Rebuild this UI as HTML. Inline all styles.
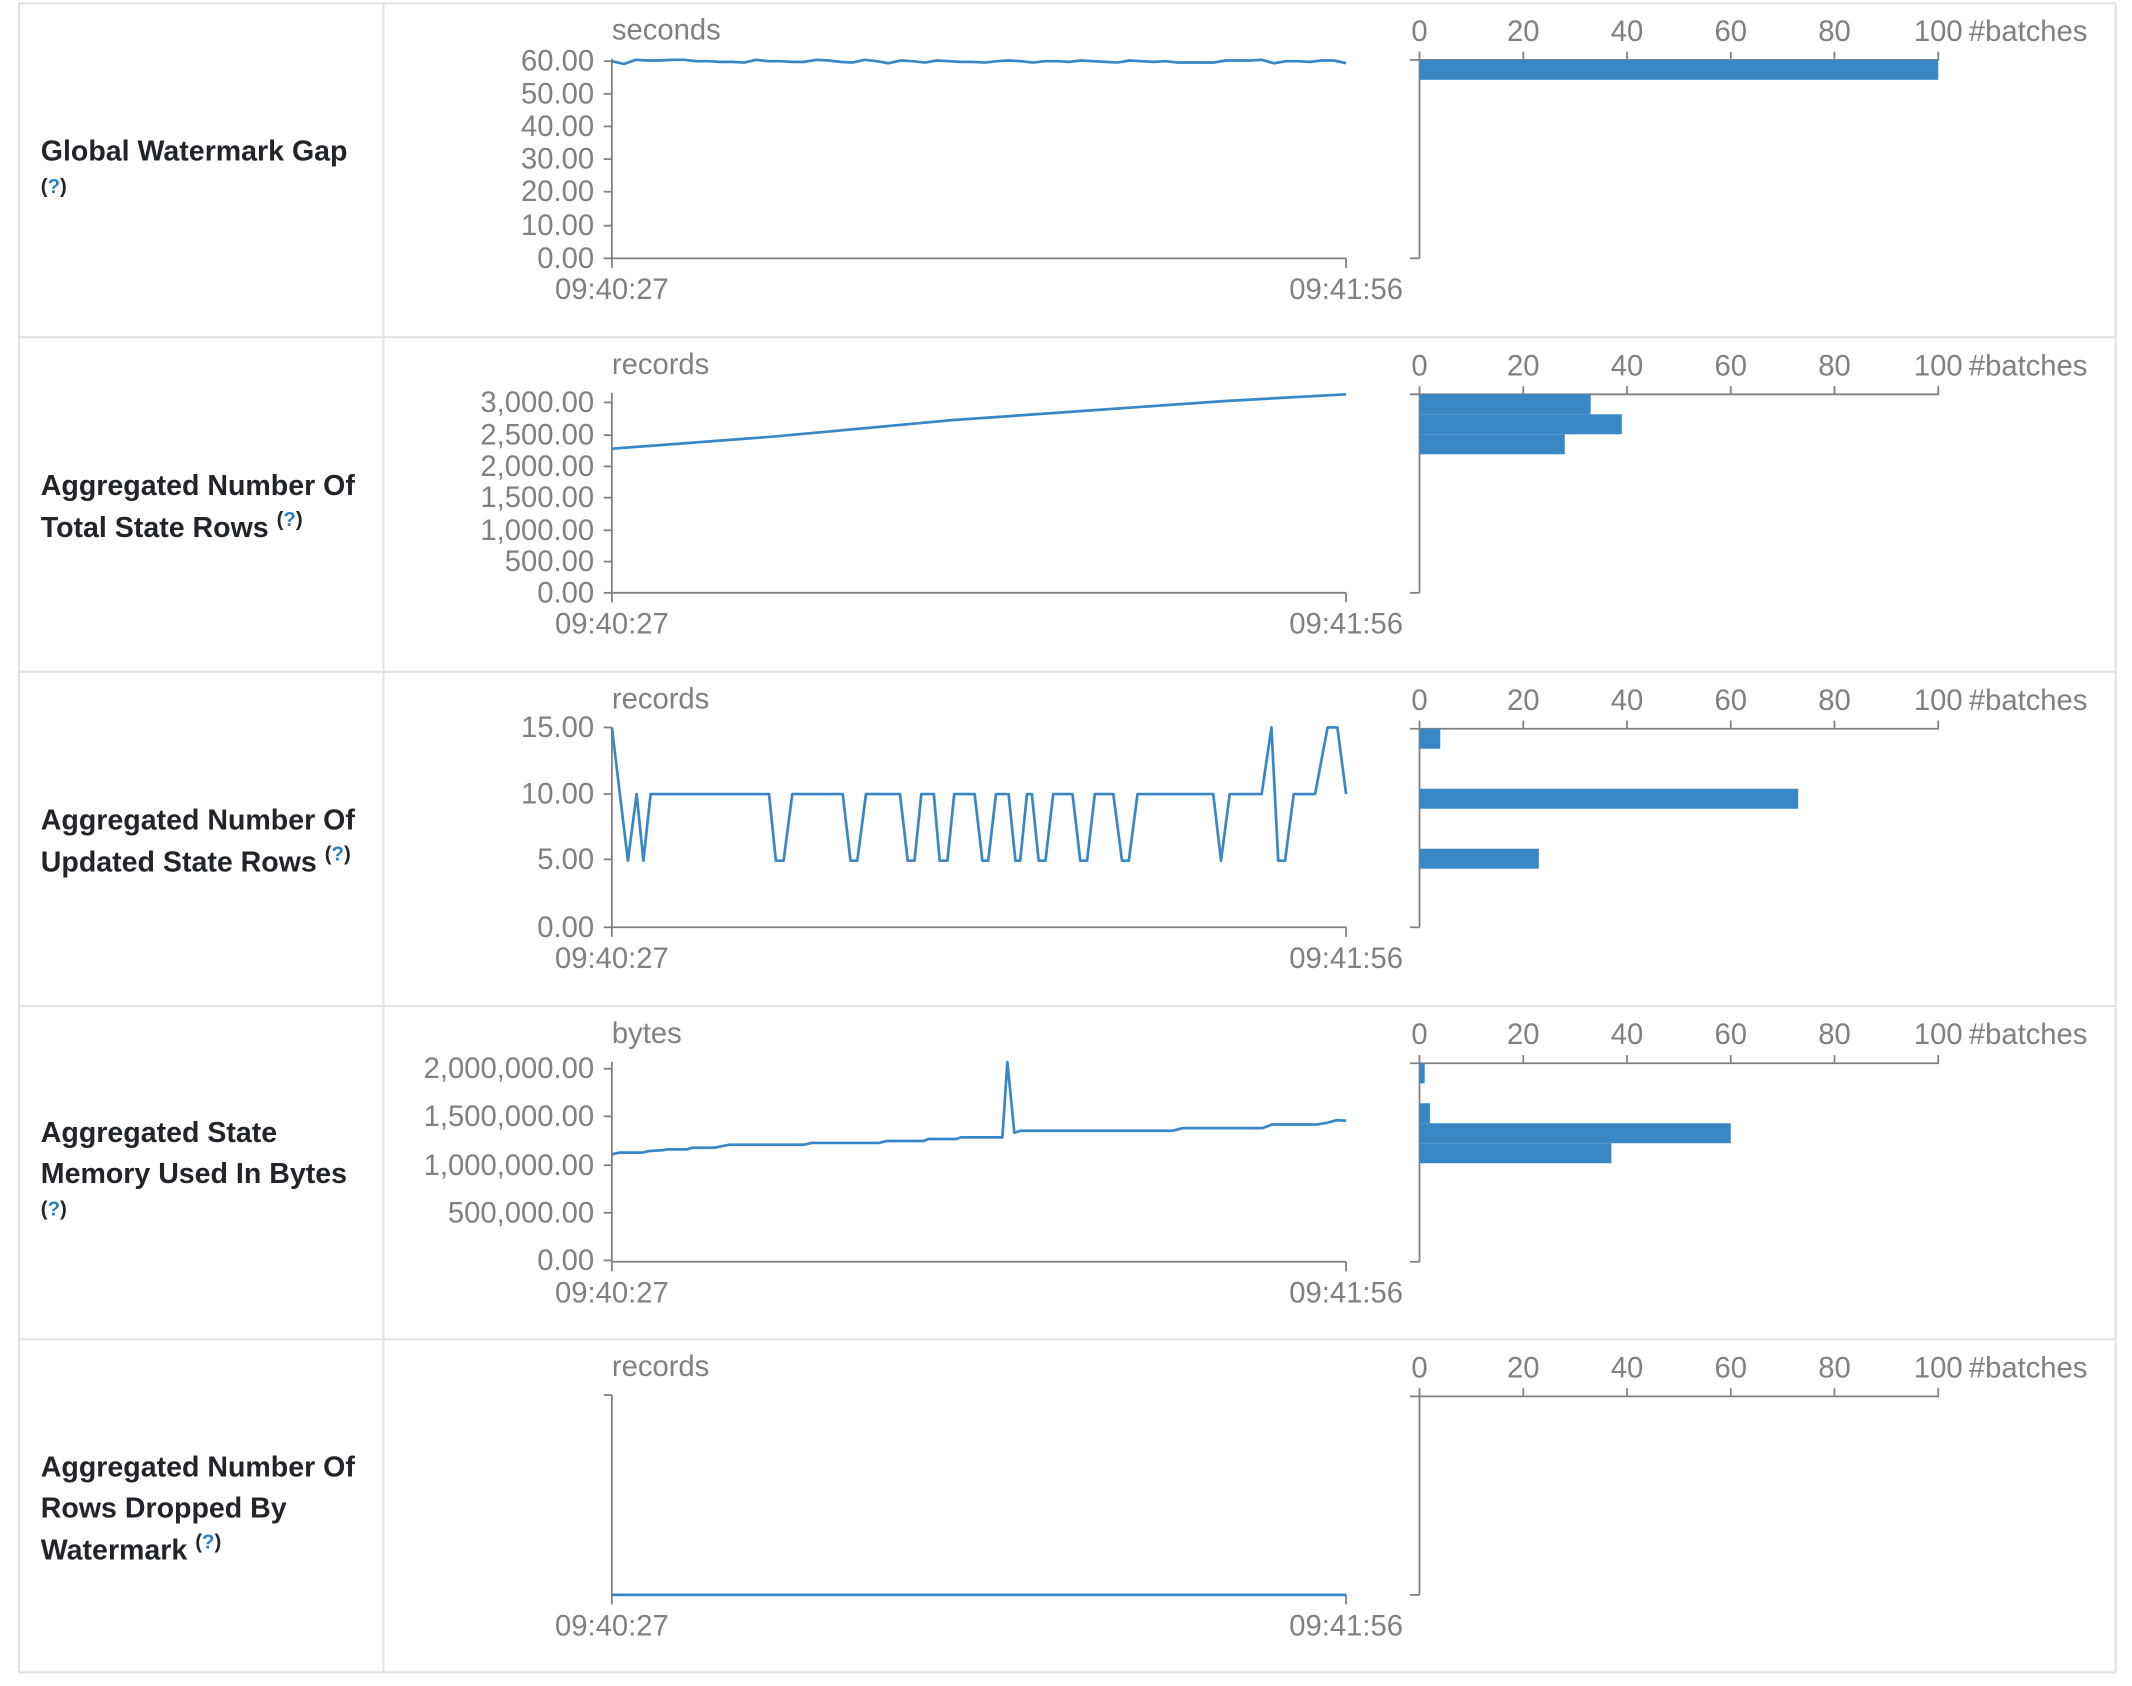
<!DOCTYPE html>
<html><head><meta charset="utf-8"><style>
html,body{margin:0;padding:0;background:#fff;}
svg{display:block}
text{font-family:"Liberation Sans",sans-serif;}
.t{fill:#808080;font-size:21.5px}
.h{fill:#212529;font-size:21px;font-weight:bold}
.q{font-size:15px;font-weight:bold;fill:#212529}
</style></head><body>
<svg id="s" width="2132" height="1686" viewBox="0 0 1568 1240" xmlns="http://www.w3.org/2000/svg">
<g stroke="#dee2e6" stroke-width="1.5" fill="none">
<line x1="14" y1="2.5" x2="1556" y2="2.5"/>
<line x1="14" y1="248" x2="1556" y2="248"/>
<line x1="14" y1="494" x2="1556" y2="494"/>
<line x1="14" y1="740" x2="1556" y2="740"/>
<line x1="14" y1="985" x2="1556" y2="985"/>
<line x1="14" y1="1230" x2="1556" y2="1230"/>
<line x1="14" y1="2" x2="14" y2="1230"/>
<line x1="282" y1="2" x2="282" y2="1230"/>
<line x1="1556" y1="2" x2="1556" y2="1230"/>
</g>
<g id="g"></g>
<text class="h" x="30" y="118">Global Watermark Gap</text>
<text class="q" x="30" y="142">(<tspan fill="#2a7ec0">?</tspan>)</text>
<text class="h" x="30" y="364">Aggregated Number Of</text>
<text class="h" x="30" y="395">Total State Rows <tspan class="q" dy="-8">(<tspan fill="#2a7ec0">?</tspan>)</tspan></text>
<text class="h" x="30" y="610">Aggregated Number Of</text>
<text class="h" x="30" y="641">Updated State Rows <tspan class="q" dy="-8">(<tspan fill="#2a7ec0">?</tspan>)</tspan></text>
<text class="h" x="30" y="840">Aggregated State</text>
<text class="h" x="30" y="870">Memory Used In Bytes</text>
<text class="q" x="30" y="894">(<tspan fill="#2a7ec0">?</tspan>)</text>
<text class="h" x="30" y="1086">Aggregated Number Of</text>
<text class="h" x="30" y="1116">Rows Dropped By</text>
<text class="h" x="30" y="1147">Watermark <tspan class="q" dy="-8">(<tspan fill="#2a7ec0">?</tspan>)</tspan></text>
</svg>
<script>
var g=document.getElementById('g'),h='';
var X0=450,X1=990,HX=1044,HU=3.815;
function T(x,y,s,a){h+='<text class="t" x="'+x+'" y="'+y+'" text-anchor="'+(a||'start')+'">'+s+'</text>';}
function L(a,b,c,d){h+='<line x1="'+a+'" y1="'+b+'" x2="'+c+'" y2="'+d+'" stroke="#808080" stroke-width="1.3"/>';}
function P(pts){h+='<polyline fill="none" stroke="#3a87c6" stroke-width="2" stroke-linejoin="round" points="'+pts.map(function(p){return p[0].toFixed(1)+','+p[1].toFixed(1)}).join(' ')+'"/>';}
var rows=[
 {r:2,unit:'seconds',ticks:[['60.00',45],['50.00',69],['40.00',93],['30.00',117],['20.00',141],['10.00',166],['0.00',190]],bars:[[0,100]]},
 {r:248,unit:'records',ticks:[['3,000.00',296],['2,500.00',320],['2,000.00',343],['1,500.00',366],['1,000.00',390],['500.00',413],['0.00',436]],bars:[[0,33],[1,39],[2,28]]},
 {r:494,unit:'records',ticks:[['15.00',535],['10.00',584],['5.00',632],['0.00',682]],bars:[[0,4],[3,73],[6,23]]},
 {r:740,unit:'bytes',ticks:[['2,000,000.00',786],['1,500,000.00',821],['1,000,000.00',857],['500,000.00',892],['0.00',927]],bars:[[0,1],[2,2],[3,60],[4,37]]},
 {r:985,unit:'records',ticks:[],bars:[]}
];
rows.forEach(function(o){
 var r=o.r,top=r+41,bot=r+188;
 T(X0,r+27,o.unit);
 L(X0,top,X0,bot);L(X0,bot,X1,bot);L(X0,bot,X0,bot+7);L(X1,bot,X1,bot+7);
 o.ticks.forEach(function(t){L(X0-6,t[1],X0,t[1]);T(X0-13,t[1]+7,t[0],'end');});
 if(!o.ticks.length){L(X0-6,top,X0,top);}
 T(X0,bot+30,'09:40:27','middle');T(X1,bot+30,'09:41:56','middle');
 var ht=r+42;
 L(HX-7,ht,HX+382,ht);L(HX,ht,HX,bot);L(HX-7,bot,HX,bot);
 for(var i=0;i<=5;i++){var x=HX+i*20*HU;L(x,ht-6,x,ht);T(x,r+28,String(i*20),'middle');}
 T(1448,r+28,'#batches');
 o.bars.forEach(function(b){h+='<rect x="'+HX+'" y="'+(ht+b[0]*14.7)+'" width="'+(b[1]*HU)+'" height="14.7" fill="#3a87c6"/>';});
});
var p1=[],w=[45,47,44,44.5,44.5,44,44,45,45,45.5,45.5,46,44,45,45,45.5,45.5,44,44.5,45.5,46,44,45,46.5,44.5,45,46,44.5,45,45.5,45.5,46,45,44.5,45,46,45,45,45.5,44.5,45,45.5,46,44.5,45,45.5,45,46,46,46,46,44.5,44.5,44.5,44,46.5,45,45,45.5,44.5,44.5,46.5];
for(var i=0;i<w.length;i++)p1.push([X0+i*(X1-X0)/(w.length-1),w[i]]);P(p1);
P([[X0,330],[570,321],[700,309],[800,302],[900,295],[X1,290]]);
var z=[[24,15],[57,5],[75,10],[89,5],[104,10],[348,10],[362,5],[378,5],[396,10],[500,10],[516,5],[530,5],[548,10],[618,10],[634,5],[648,5],[662,10],[688,10],[700,5],[716,5],[730,10],[772,10],[788,5],[800,5],[816,10],[842,10],[856,5],[866,5],[880,10],[890,10],[904,5],[918,5],[934,10],[974,10],[990,5],[1004,5],[1020,10],[1058,10],[1076,5],[1090,5],[1108,10],[1264,10],[1280,5],[1298,10],[1364,10],[1384,15],[1398,5],[1412,5],[1430,10],[1474,10],[1500,15],[1520,15],[1538,10]];
P(z.map(function(p){return[X0+(p[0]-24)*(540/1514),682-p[1]*(147/15)];}));
var m=[[64,345],[80,340],[125,340],[140,335],[165,333],[175,330],[215,330],[225,325],[270,325],[300,316],[450,316],[465,311],[600,311],[615,305],[690,305],[700,299],[755,299],[765,294],[848,294],[858,67],[872,280],[885,274],[1190,274],[1210,266],[1370,266],[1390,255],[1480,255],[1500,250],[1520,242],[1538,244]];
P(m.map(function(p){return[X0+(p[0]-64)*(540/1474),786+(p[1]-87)*(141/578)];}));
P([[X0,1173],[X1,1173]]);
g.innerHTML=h;
</script>
</body></html>
